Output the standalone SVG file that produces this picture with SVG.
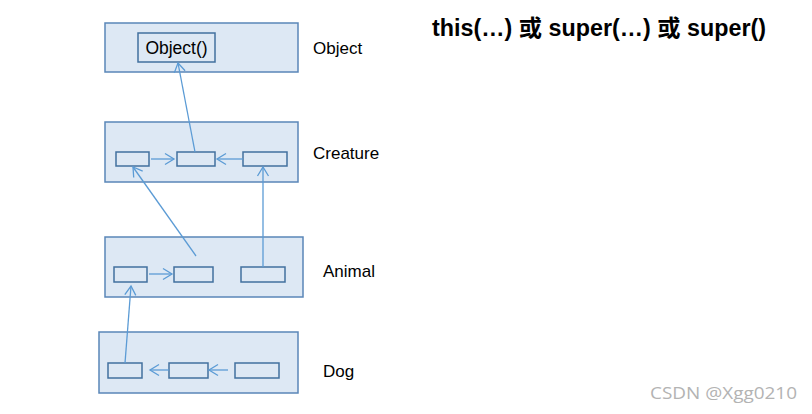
<svg xmlns="http://www.w3.org/2000/svg" width="812" height="414" viewBox="0 0 812 414">
<style>
.big{fill:#dde8f4;stroke:#5a86b8;stroke-width:1.5}
.sm{fill:#dde8f4;stroke:#42709e;stroke-width:1.5}
.lbl{font-family:"Liberation Sans",Arial,sans-serif;font-size:17px;fill:#000}
.ln{fill:none;stroke:#5b9bd5;stroke-width:1.3;marker-end:url(#ah)}
</style>
<defs>
<marker id="ah" markerWidth="14" markerHeight="14" refX="10" refY="7" orient="auto" markerUnits="userSpaceOnUse">
<polyline points="1,1.5 10,7 1,12.5" fill="none" stroke="#5b9bd5" stroke-width="1.3"/>
</marker>
</defs>
<rect width="812" height="414" fill="#fff"/>
<g id="object">
<rect class="big" x="105" y="23" width="193" height="49"/>
<rect class="sm" x="138" y="33" width="77" height="29"/>
<text class="lbl" x="176.5" y="54" text-anchor="middle" style="font-size:17.5px">Object()</text>
<text class="lbl" x="313" y="54">Object</text>
</g>
<g id="creature">
<rect class="big" x="105" y="122" width="193" height="60"/>
<rect class="sm" x="116" y="152" width="33" height="14"/>
<rect class="sm" x="177" y="152" width="38" height="14"/>
<rect class="sm" x="243" y="152" width="44" height="14"/>
<text class="lbl" x="313" y="159">Creature</text>
</g>
<g id="animal">
<rect class="big" x="105" y="237" width="198" height="60"/>
<rect class="sm" x="114" y="267" width="33" height="15"/>
<rect class="sm" x="174" y="267" width="39" height="15"/>
<rect class="sm" x="241" y="267" width="44" height="15"/>
<text class="lbl" x="323" y="277">Animal</text>
</g>
<g id="dog">
<rect class="big" x="99" y="332" width="199" height="61"/>
<rect class="sm" x="108" y="363" width="34" height="15"/>
<rect class="sm" x="169" y="363" width="39" height="15"/>
<rect class="sm" x="235" y="363" width="44" height="15"/>
<text class="lbl" x="323" y="377">Dog</text>
</g>
<g id="connectors">
<line class="ln" x1="195" y1="152" x2="178" y2="63"/>
<line class="ln" x1="151" y1="159" x2="174" y2="159"/>
<line class="ln" x1="243" y1="159" x2="217" y2="159"/>
<line class="ln" x1="196" y1="256" x2="133" y2="167"/>
<line class="ln" x1="263" y1="267" x2="263" y2="167"/>
<line class="ln" x1="149" y1="274" x2="172" y2="274"/>
<line class="ln" x1="125" y1="363" x2="131" y2="286"/>
<line class="ln" x1="169" y1="370" x2="150" y2="370"/>
<line class="ln" x1="228" y1="370" x2="209" y2="370"/>
</g>
<text x="432" y="36" font-family="'Liberation Sans','Noto Sans CJK SC',sans-serif" font-size="23" font-weight="bold" fill="#000" textLength="334" lengthAdjust="spacingAndGlyphs">this(…) 或 super(…) 或 super()</text>
<text x="650" y="399" font-family="'Open Sans','Noto Sans',sans-serif" font-size="16" fill="#b3b3b3" textLength="147" lengthAdjust="spacingAndGlyphs">CSDN @Xgg0210</text>
</svg>
